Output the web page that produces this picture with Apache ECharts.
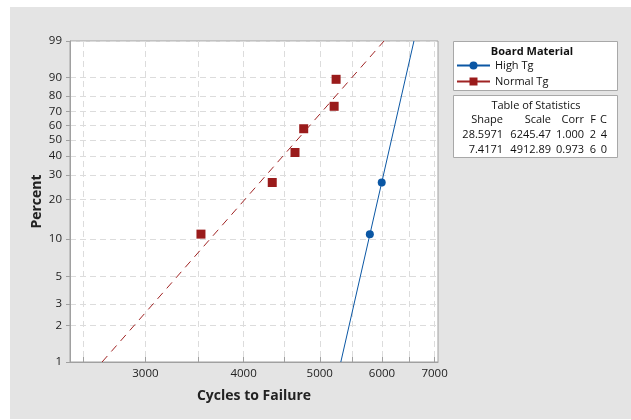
<!DOCTYPE html>
<html>
<head>
<meta charset="utf-8">
<script src="https://cdn.jsdelivr.net/npm/echarts@6/dist/echarts.min.js"></script>
<style>
  html, body { margin: 0; padding: 0; background: #ffffff; }
  #panel { position: absolute; left: 10px; top: 7px; width: 621px; height: 412px; background: #e4e4e4; }
  #main { position: absolute; left: 0; top: 0; width: 631px; height: 420px; }
</style>
</head>
<body>
<div id="panel"></div>
<div id="main"></div>
<script>
(function () {
  // data (cycles, percent)
  var normalCycles = [3530, 4350, 4650, 4770, 5215, 5245];
  var normalPct = [10.9, 26.6, 42.2, 57.8, 73.4, 89.1];
  var highCycles = [5790, 5995];
  var highPct = [10.9, 26.6];

  // fitted lines, end points at 1% and 99%
  var normalFitCycles = [2642, 6036];
  var highFitCycles = [5318, 6589];
  var fitPct = [1, 99];

  // axis ticks
  var xTicks = [2500, 3000, 3500, 4000, 4500, 5000, 5500, 6000, 6500, 7000];
  var xLabels = [3000, 4000, 5000, 6000, 7000];
  var yTicks = [1, 2, 3, 5, 10, 20, 30, 40, 50, 60, 70, 80, 90, 99];

  // table of statistics
  var statHeader = ['Shape', 'Scale', 'Corr', 'F', 'C'];
  var statRows = [
    ['28.5971', '6245.47', '1.000', '2', '4'],
    ['7.4171', '4912.89', '0.973', '6', '0']
  ];

  // weibull probability paper: log x, ln(-ln(1-p)) y
  function lg(v) { return Math.log10(v); }
  function wb(p) { return Math.log(-Math.log(1 - p / 100)); }
  function pairs(xs, ps) {
    return xs.map(function (x, i) { return [lg(x), wb(ps[i])]; });
  }

  var font = 'Open Sans';
  var red = '#9a1b1b';
  var blue = '#0b57a4';

  var myChart = echarts.init(document.getElementById('main'));

  var colX = [503, 551, 584, 596, 607];
  var statText = [];
  statText.push({
    type: 'text', x: 536, y: 106,
    style: { text: 'Table of Statistics', font: '11px "' + font + '"', fill: '#111', align: 'center', verticalAlign: 'middle' }
  });
  statHeader.forEach(function (h, j) {
    statText.push({
      type: 'text', x: colX[j], y: 120,
      style: { text: h, font: '11px "' + font + '"', fill: '#111', align: 'right', verticalAlign: 'middle' }
    });
  });
  statRows.forEach(function (row, i) {
    row.forEach(function (c, j) {
      statText.push({
        type: 'text', x: colX[j], y: 135 + i * 14.5,
        style: { text: c, font: '11px "' + font + '"', fill: '#111', align: 'right', verticalAlign: 'middle' }
      });
    });
  });

  var option = {
    animation: false,
    textStyle: { fontFamily: font },
    grid: {
      left: 70, top: 41, right: 193, bottom: 58,
      show: true, backgroundColor: '#ffffff', borderColor: '#a0a0a0', borderWidth: 1
    },
    xAxis: {
      type: 'value',
      min: lg(2405), max: lg(7070),
      name: 'Cycles to Failure', nameLocation: 'middle', nameGap: 27,
      nameTextStyle: { fontSize: 14, fontWeight: 'bold', color: '#222', fontFamily: font },
      axisLine: { onZero: false, lineStyle: { color: '#a0a0a0' } },
      axisTick: { inside: true, length: 5, lineStyle: { color: '#a0a0a0' }, customValues: xTicks.map(lg) },
      axisLabel: {
        customValues: xLabels.map(lg), fontSize: 11.5, color: '#222', margin: 6,
        formatter: function (v) { return Math.round(Math.pow(10, v)); }
      },
      splitLine: { show: true, lineStyle: { color: '#dcdcdc', type: [6, 4] } }
    },
    yAxis: {
      type: 'value',
      min: wb(1), max: wb(99),
      name: 'Percent', nameLocation: 'middle', nameGap: 26, nameRotate: 90, nameMoveOverlap: false,
      nameTextStyle: { fontSize: 14, fontWeight: 'bold', color: '#222', fontFamily: font },
      axisLine: { show: true, onZero: false, lineStyle: { color: '#a0a0a0' } },
      axisTick: { show: true, length: 4, lineStyle: { color: '#a0a0a0' }, customValues: yTicks.map(function (p) { return wb(p); }) },
      axisLabel: {
        customValues: yTicks.map(function (p) { return wb(p); }), fontSize: 11.5, color: '#222', margin: 8,
        formatter: function (v) { return Math.round(100 * (1 - Math.exp(-Math.exp(v)))); }
      },
      splitLine: { show: true, lineStyle: { color: '#dcdcdc', type: [6, 4] } }
    },
    legend: {
      orient: 'vertical', left: 456, top: 60, padding: 0, itemGap: 5,
      itemWidth: 33, itemHeight: 10,
      textStyle: { fontSize: 11, color: '#111', fontFamily: font },
      lineStyle: { type: 'solid' },
      data: ['High Tg', 'Normal Tg']
    },
    graphic: [
      { type: 'rect', shape: { x: 453.5, y: 41.5, width: 164, height: 49 }, style: { fill: '#ffffff', stroke: '#a8a8a8' }, z: -1 },
      { type: 'rect', shape: { x: 453.5, y: 95.5, width: 164, height: 62 }, style: { fill: '#ffffff', stroke: '#a8a8a8' }, z: -1 },
      { type: 'text', x: 532, y: 52, style: { text: 'Board Material', font: 'bold 11px "' + font + '"', fill: '#111', align: 'center', verticalAlign: 'middle' } }
    ].concat(statText),
    series: [
      {
        name: 'High Tg', type: 'line', symbol: 'circle', showSymbol: false,
        lineStyle: { color: blue, width: 1 }, itemStyle: { color: blue },
        data: pairs(highFitCycles, fitPct)
      },
      {
        name: 'Normal Tg', type: 'line', symbol: 'rect', showSymbol: false,
        lineStyle: { color: '#a02424', width: 1, type: [8, 6] }, itemStyle: { color: red },
        data: pairs(normalFitCycles, fitPct)
      },
      {
        name: 'High Tg', type: 'scatter', symbol: 'circle', symbolSize: 8,
        itemStyle: { color: blue, opacity: 1 }, data: pairs(highCycles, highPct)
      },
      {
        name: 'Normal Tg', type: 'scatter', symbol: 'rect', symbolSize: 9,
        itemStyle: { color: red, opacity: 1 }, data: pairs(normalCycles, normalPct)
      }
    ]
  };
  myChart.setOption(option);
})();
</script>
</body>
</html>
